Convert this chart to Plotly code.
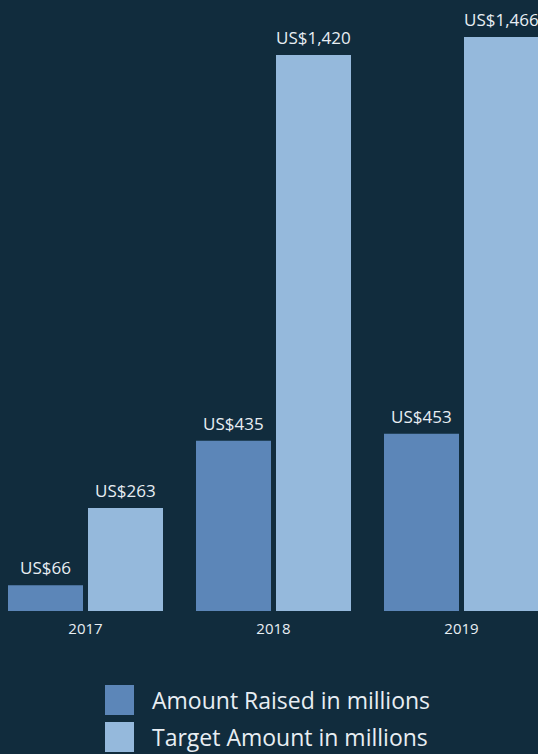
import plotly.graph_objects as go

years = ["2017", "2018", "2019"]
amount_raised = [66, 435, 453]
target_amount = [263, 1420, 1466]
series_names = ["Amount Raised in millions", "Target Amount in millions"]

W, H = 538, 754
BG = "#112c3d"
DARK = "#5c86b8"
LIGHT = "#95b9dc"
TEXT = "#e8eef3"
FONT = "Open Sans"

PLOT_BOTTOM = 611  # pixel row of the baseline


def py(p):
    """Pixel row -> paper y."""
    return (PLOT_BOTTOM - p) / PLOT_BOTTOM


def px(p):
    return p / W


fig = go.Figure()
bar_w = 75 / 188
fig.add_trace(go.Bar(x=years, y=amount_raised, name=series_names[0],
                     marker=dict(color=DARK, line=dict(width=0)),
                     width=bar_w, offset=-77.5 / 188, showlegend=False))
fig.add_trace(go.Bar(x=years, y=target_amount, name=series_names[1],
                     marker=dict(color=LIGHT, line=dict(width=0)),
                     width=bar_w, offset=2.5 / 188, showlegend=False))

annotations = []
for i, (a, t) in enumerate(zip(amount_raised, target_amount)):
    for val, shift in ((a, -40), (t, 40)):
        annotations.append(dict(
            x=i, y=val, xref="x", yref="y", text="US&#36;" + f"{val:,}",
            showarrow=False, xshift=shift, yshift=4, yanchor="bottom",
            xanchor="center",
            font=dict(family=FONT, size=17, color=TEXT)))

# legend drawn as shapes + labels
shapes = []
for (top, bottom), color, name in zip(((685, 715), (722, 752)), (DARK, LIGHT), series_names):
    shapes.append(dict(type="rect", xref="paper", yref="paper",
                       x0=px(105), x1=px(134), y0=py(bottom), y1=py(top),
                       fillcolor=color, line=dict(width=0)))
    annotations.append(dict(x=px(150), y=py((top + bottom) / 2), xref="paper", yref="paper",
                            text=name, showarrow=False, xanchor="left", yanchor="middle",
                            font=dict(family=FONT, size=23, color=TEXT)))

fig.update_layout(
    width=W, height=H,
    margin=dict(l=0, r=0, t=0, b=H - PLOT_BOTTOM, pad=0),
    paper_bgcolor=BG, plot_bgcolor=BG,
    barmode="group",
    showlegend=False,
    xaxis=dict(type="category", range=[-85.5 / 188, (W - 85.5) / 188],
               showgrid=False, zeroline=False, showline=False, ticks="",
               tickfont=dict(family=FONT, size=15, color=TEXT),
               ticklabelstandoff=7),
    yaxis=dict(range=[0, PLOT_BOTTOM / (556 / 1420)], visible=False,
               showgrid=False, zeroline=False),
    annotations=annotations,
    shapes=shapes,
)

fig.write_html("out.html")
